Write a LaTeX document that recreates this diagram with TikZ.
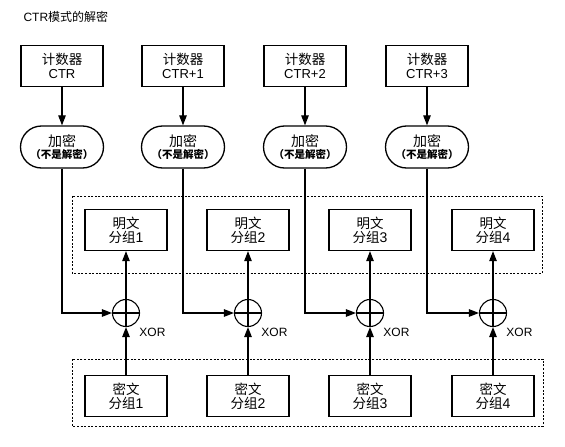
\documentclass[tikz,border=0pt]{standalone}
\usepackage{fontspec}
\setmainfont{Liberation Sans}
\newfontfamily\cjk{Noto Sans CJK SC}
\usetikzlibrary{arrows.meta, shapes.misc}

\begin{document}
\begin{tikzpicture}[x=1pt, y=-1pt,
    box/.style={draw, line width=1.3pt, minimum width=82pt, minimum height=41pt,
                inner sep=0pt, align=center, font=\fontsize{13}{14}\selectfont},
    encbox/.style={draw, line width=1.3pt, rounded rectangle, minimum width=83pt,
                minimum height=42pt, inner sep=0pt, align=center},
    xorcirc/.style={draw, line width=1.1pt, circle, minimum size=27pt, inner sep=0pt},
    arr/.style={line width=1.1pt, -{Triangle[length=10pt, width=7.5pt]}},
    dashbox/.style={line width=0.6pt, dash pattern=on 2pt off 1.6pt}]

  \useasboundingbox (0, 0) rectangle (565, 447);

  \node [anchor=west, font=\fontsize{12}{14}\selectfont] (title) at (20, 17) {CTR{\cjk 模式的解密}};

  \node [box] (cnt1) at ( 62, 66) {{\cjk\fontsize{13.5}{14}\selectfont 计数器}\\CTR};
  \node [box] (cnt2) at (183, 66) {{\cjk\fontsize{13.5}{14}\selectfont 计数器}\\CTR+1};
  \node [box] (cnt3) at (305, 66) {{\cjk\fontsize{13.5}{14}\selectfont 计数器}\\CTR+2};
  \node [box] (cnt4) at (427, 66) {{\cjk\fontsize{13.5}{14}\selectfont 计数器}\\CTR+3};

  \node [encbox] (enc1) at ( 62, 147) {{\cjk\fontsize{14}{14}\selectfont 加密}\\[-0.5pt]{\cjk\bfseries\fontsize{10.5}{11}\selectfont （不是解密）}};
  \node [encbox] (enc2) at (183, 147) {{\cjk\fontsize{14}{14}\selectfont 加密}\\[-0.5pt]{\cjk\bfseries\fontsize{10.5}{11}\selectfont （不是解密）}};
  \node [encbox] (enc3) at (305, 147) {{\cjk\fontsize{14}{14}\selectfont 加密}\\[-0.5pt]{\cjk\bfseries\fontsize{10.5}{11}\selectfont （不是解密）}};
  \node [encbox] (enc4) at (427, 147) {{\cjk\fontsize{14}{14}\selectfont 加密}\\[-0.5pt]{\cjk\bfseries\fontsize{10.5}{11}\selectfont （不是解密）}};

  \node [box] (pl1) at (126, 230) {{\cjk\fontsize{13.5}{14}\selectfont 明文}\\{\cjk\fontsize{13.5}{14}\selectfont 分组}{\fontsize{14}{14}\selectfont 1}};
  \node [box] (pl2) at (248, 230) {{\cjk\fontsize{13.5}{14}\selectfont 明文}\\{\cjk\fontsize{13.5}{14}\selectfont 分组}{\fontsize{14}{14}\selectfont 2}};
  \node [box] (pl3) at (370, 230) {{\cjk\fontsize{13.5}{14}\selectfont 明文}\\{\cjk\fontsize{13.5}{14}\selectfont 分组}{\fontsize{14}{14}\selectfont 3}};
  \node [box] (pl4) at (493, 230) {{\cjk\fontsize{13.5}{14}\selectfont 明文}\\{\cjk\fontsize{13.5}{14}\selectfont 分组}{\fontsize{14}{14}\selectfont 4}};

  \node [xorcirc] (xor1) at (126, 313) {};
  \node [xorcirc] (xor2) at (248, 313) {};
  \node [xorcirc] (xor3) at (370, 313) {};
  \node [xorcirc] (xor4) at (493, 313) {};

  \node [box] (ci1) at (126, 396) {{\cjk\fontsize{13.5}{14}\selectfont 密文}\\{\cjk\fontsize{13.5}{14}\selectfont 分组}{\fontsize{14}{14}\selectfont 1}};
  \node [box] (ci2) at (248, 396) {{\cjk\fontsize{13.5}{14}\selectfont 密文}\\{\cjk\fontsize{13.5}{14}\selectfont 分组}{\fontsize{14}{14}\selectfont 2}};
  \node [box] (ci3) at (370, 396) {{\cjk\fontsize{13.5}{14}\selectfont 密文}\\{\cjk\fontsize{13.5}{14}\selectfont 分组}{\fontsize{14}{14}\selectfont 3}};
  \node [box] (ci4) at (493, 396) {{\cjk\fontsize{13.5}{14}\selectfont 密文}\\{\cjk\fontsize{13.5}{14}\selectfont 分组}{\fontsize{14}{14}\selectfont 4}};

  \node [anchor=west, font=\fontsize{12}{14}\selectfont] (lx1) at ([yshift=-9pt]xor1.south east) {XOR};
  \node [anchor=west, font=\fontsize{12}{14}\selectfont] (lx2) at ([yshift=-9pt]xor2.south east) {XOR};
  \node [anchor=west, font=\fontsize{12}{14}\selectfont] (lx3) at ([yshift=-9pt]xor3.south east) {XOR};
  \node [anchor=west, font=\fontsize{12}{14}\selectfont] (lx4) at ([yshift=-9pt]xor4.south east) {XOR};

  \draw [dashbox] (72, 196) rectangle (542, 273);
  \draw [dashbox] (72, 359) rectangle (543, 426);

  \draw [line width=1.1pt] (xor1.north) -- (xor1.south) (xor1.west) -- (xor1.east);
  \draw [line width=1.1pt] (xor2.north) -- (xor2.south) (xor2.west) -- (xor2.east);
  \draw [line width=1.1pt] (xor3.north) -- (xor3.south) (xor3.west) -- (xor3.east);
  \draw [line width=1.1pt] (xor4.north) -- (xor4.south) (xor4.west) -- (xor4.east);

  \draw [arr] (cnt1) -- (enc1);
  \draw [arr] (cnt2) -- (enc2);
  \draw [arr] (cnt3) -- (enc3);
  \draw [arr] (cnt4) -- (enc4);

  \draw [arr] (enc1.south) |- (xor1.west);
  \draw [arr] (enc2.south) |- (xor2.west);
  \draw [arr] (enc3.south) |- (xor3.west);
  \draw [arr] (enc4.south) |- (xor4.west);

  \draw [arr] (xor1.north) -- (pl1.south);
  \draw [arr] (xor2.north) -- (pl2.south);
  \draw [arr] (xor3.north) -- (pl3.south);
  \draw [arr] (xor4.north) -- (pl4.south);

  \draw [arr] (ci1.north) -- (xor1.south);
  \draw [arr] (ci2.north) -- (xor2.south);
  \draw [arr] (ci3.north) -- (xor3.south);
  \draw [arr] (ci4.north) -- (xor4.south);

\end{tikzpicture}
\end{document}
